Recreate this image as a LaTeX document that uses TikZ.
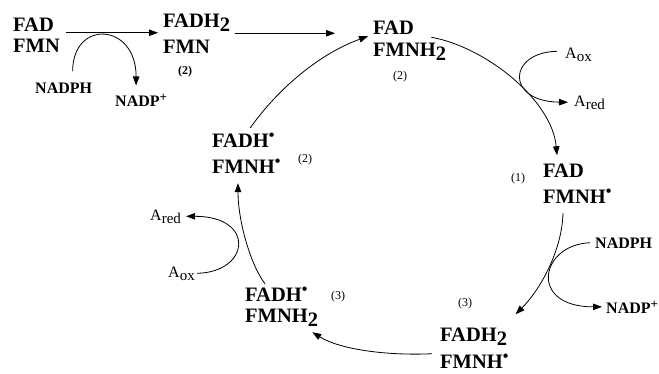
\documentclass[tikz,border=0pt]{standalone}
\usepackage{fontspec}
\setmainfont{Liberation Serif}
\usetikzlibrary{arrows.meta}
\newcommand{\rad}{\raisebox{6.5pt}{\fontsize{16}{16}\selectfont\textbullet}}
\newcommand{\sbtwo}{\raisebox{-4pt}{2}}
\newcommand{\lowr}[1]{\raisebox{-3pt}{\fontsize{15}{15}\selectfont #1}}
\newcommand{\plussup}{\raisebox{5pt}{\fontsize{13}{13}\selectfont +}}
\tikzset{
  state/.style={font=\fontsize{20.5}{21}\selectfont\bfseries, align=left, inner sep=0pt, anchor=base west},
  reag/.style={font=\fontsize{16}{16}\selectfont\bfseries, inner sep=0pt, anchor=base west},
  acc/.style={font=\fontsize{16}{16}\selectfont, inner sep=0pt, anchor=base west},
  num/.style={font=\fontsize{12}{12}\selectfont, inner sep=0pt, anchor=base},
  arr/.style={-{Triangle[length=9pt,width=6.5pt]}, line width=0.8pt}
}
\begin{document}
\begin{tikzpicture}[x=1pt,y=-1pt]
\useasboundingbox (0,0) rectangle (659,373);
% states (anchored at the baseline of their last line)
\node[state] (A) at (13,52) {FAD\\FMN};
\node[state] (B) at (163,53) {FADH\sbtwo\\[5pt]FMN};
\node[num,font=\fontsize{12}{12}\selectfont\bfseries] (nB) at (185,74) {(2)};
\node[state] (C) at (373,56) {FAD\\[1pt]FMNH\sbtwo};
\node[num] (nC) at (400,79) {(2)};
\node[state] (D) at (543,203) {FAD\\[5pt]FMNH\rad};
\node[num] (nD) at (518,181) {(1)};
\node[state] (E) at (440,368) {FADH\sbtwo\\[6pt]FMNH\rad};
\node[num] (nE) at (465,306) {(3)};
\node[state] (F) at (245,322) {FADH\rad\\FMNH\sbtwo};
\node[num] (nF) at (338,299) {(3)};
\node[state] (G) at (212,173) {FADH\rad\\[5pt]FMNH\rad};
\node[num] (nG) at (305,162) {(2)};
% reagents
\node[reag] (nadph1) at (35,93) {NADPH};
\node[reag] (nadpp1) at (115,106) {NADP\plussup};
\node[acc] (aox1) at (565,58) {A\lowr{ox}};
\node[acc] (ared1) at (574,106) {A\lowr{red}};
\node[reag] (nadph2) at (595,248) {NADPH};
\node[reag] (nadpp2) at (606,313) {NADP\plussup};
\node[acc] (aox2) at (168,277) {A\lowr{ox}};
\node[acc] (ared2) at (150,220) {A\lowr{red}};
% straight arrows
\draw[arr, shorten <=6pt, shorten >=5pt, transform canvas={yshift=2pt}] (A.east) -- (A.east -| B.west);
\draw[arr, shorten <=5pt, shorten >=38pt] (B.east) -- (B.east -| C.west);
\draw[arr] ([xshift=9pt,yshift=11pt]nadph1.north) .. controls +(0,-52) and +(0,-63) .. ([xshift=-5pt,yshift=8pt]nadpp1.north);
% cycle
\draw[arr] ([xshift=4pt,yshift=5pt]G.north) .. controls +(29,-41) and +(-47,17) .. ([xshift=-5pt,yshift=4pt]C.west);
\draw[arr] ([xshift=-15pt,yshift=3pt]C.east) .. controls +(55,10) and +(-5,-55) .. ([xshift=14pt,yshift=8pt]D.north west);
\draw[arr] ([xshift=20pt,yshift=-10pt]D.south west) .. controls +(-1,37) and +(25,-25) .. ([xshift=7pt,yshift=13pt]E.north east);
\draw[arr] ([xshift=-8pt,yshift=-6pt]E.west) .. controls +(-42,2) and +(29,18) .. ([xshift=-6pt,yshift=-6pt]F.south east);
\draw[arr] ([xshift=20pt,yshift=3pt]F.north west) .. controls +(-15,-20) and +(0,37) .. ([xshift=26pt,yshift=-10pt]G.south west);
% side reactions
\draw[arr] ([xshift=-8pt,yshift=3pt]aox1.west) .. controls +(-49,1) and +(-63,-1) .. ([xshift=-6pt]ared1.west);
\draw[arr] ([xshift=-5pt]nadph2.west) .. controls +(-50,2) and +(-74,0) .. ([xshift=-4pt]nadpp2.west);
\draw[arr] ([xshift=2pt]aox2.east) .. controls +(53,-1) and +(70,0) .. ([xshift=5pt]ared2.east);
\end{tikzpicture}
\end{document}
